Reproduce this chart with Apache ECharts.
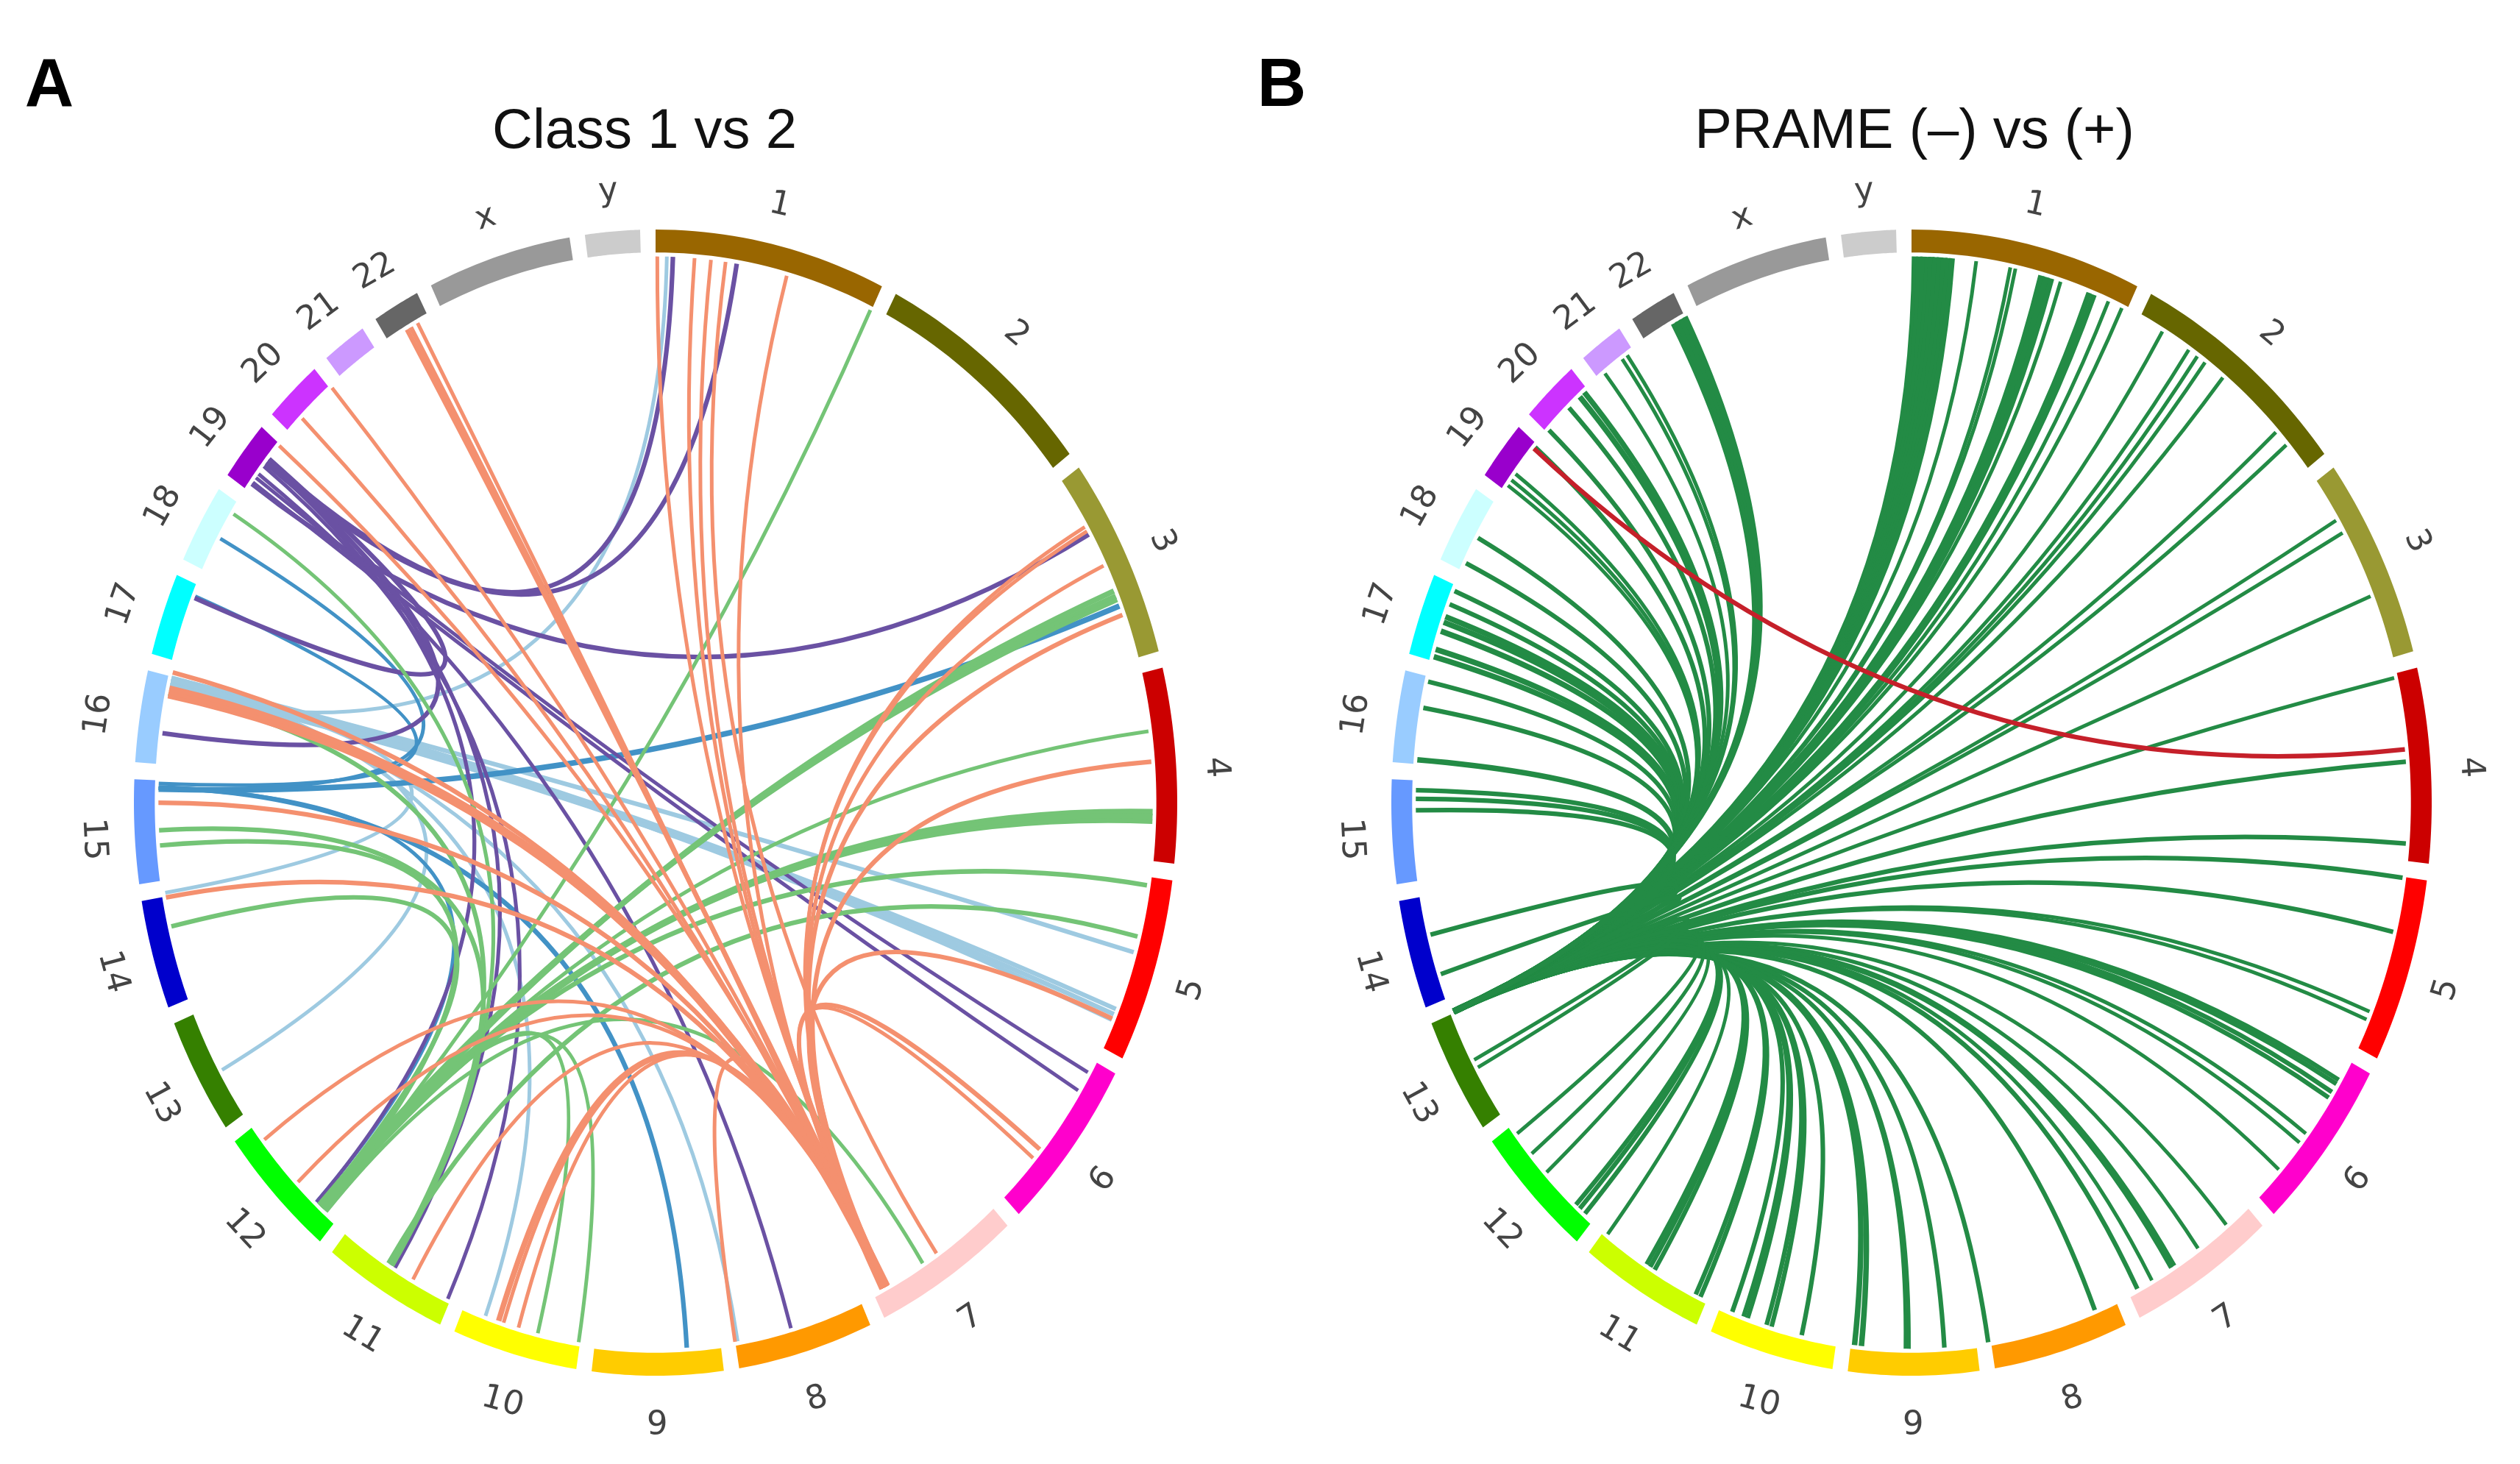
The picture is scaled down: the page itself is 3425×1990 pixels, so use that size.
<!DOCTYPE html>
<html><head><meta charset="utf-8">
<style>html,body{margin:0;padding:0;background:#fff}#c{width:3425px;height:1990px}</style>
<script src="https://cdn.jsdelivr.net/npm/echarts@6/dist/echarts.min.js"></script>
</head><body><div id="c"></div>
<script>
// chromosomes (Mb) and colours
var chromNames=['1','2','3','4','5','6','7','8','9','10','11','12','13','14','15','16','17','18','19','20','21','22','x','y'];
var chromSizes=[249,243,198,191,181,171,159,146,141,135,135,133,115,107,102,90,81,78,59,63,48,51,155,59];
var chromColors=['#996600','#666600','#999933','#CC0000','#FF0000','#FF00CC','#FFCCCC','#FF9900','#FFCC00','#FFFF00','#CCFF00','#00FF00','#358000','#0000CC','#6699FF','#99CCFF','#00FFFF','#CCFFFF','#9900CC','#CC33FF','#CC99FF','#666666','#999999','#CCCCCC'];
// links: [ring position a (deg), ring position b (deg), stroke weight]
var aLightBlue=[[1.3,281.4,4],[283.2,105.9,5],[283.2,112.2,5],[282.2,112.8,5],[282.7,113.4,5],[240.7,282.5,4],[260.5,283,4],[200,283,4],[170.5,282.5,4]];
var aBlue=[[68.9,271.4,6],[271.6,176.4,5],[298.9,271.5,4],[292.2,272,4],[271.5,223,4]];
var aPurple=[[2,308.8,5],[9.4,308.4,5],[60.6,305.7,5],[292,309,5],[277.3,308.6,5],[308.5,223,4],[309,211.6,4],[308,204.7,4],[307,164.2,4],[306.5,119.6,4],[305.9,121.8,4]];
var aGreen=[[25.6,221.8,4],[301.9,212,4],[193.7,222,4],[188.9,222.3,4],[147.5,221.5,4],[67.2,222,6],[67.8,222.3,6],[68.2,222.6,5],[82.5,222,4],[91,222,7],[91.5,222.3,7],[92,222.6,5],[98.7,222.2,5],[104.2,212.5,5],[267.1,212,5],[265.5,222,5],[256.9,222.5,5],[281.5,212.2,5]];
var aSalmon=[[0.2,152.3,4],[4.5,152.6,4],[6.4,152.2,4],[8.1,145.6,4],[15.3,153,4],[330,152.3,5],[330.5,152.5,5],[331.4,152.9,4],[319.4,152.5,4],[314.7,152.7,4],[310.8,152.2,4],[283.8,152.4,5],[281.3,152.5,6],[281.7,152.7,6],[282.1,152.2,6],[270,152.6,5],[260,152.4,5],[85.7,152.5,5],[59.7,152.3,4],[60.2,152.6,4],[64.3,152.5,4],[69.9,152.8,5],[113.3,152.3,5],[130.6,152.4,4],[129.4,152.6,5],[170.8,152.7,4],[198.4,152.4,6],[197.8,152.2,4],[196,152.6,4],[209.2,152.5,4],[226,152.3,4],[231.9,152.4,4]];
var bHub=247.5;
var bGreenEnds=[[0.4,7],[0.9,7],[1.4,7],[1.9,7],[2.3,7],[2.8,7],[3.3,7],[3.8,7],[4.3,7],[4.7,6],[7.5,4],[11.5,4],[12.1,4],[15.2,7],[15.8,7],[16.4,6],[17.5,4],[21,6],[21.6,6],[23.4,4],[25.1,4],[30.4,4],[34,4],[35.2,4],[36.3,4],[38.9,4],[47.3,4],[49.1,4],[58.9,4],[60.4,4],[67.8,4],[76.8,4],[85.7,5],[94.3,5],[97.9,5],[103.7,5],[112.5,4],[113.4,4],[120.5,5],[121,5],[122,5],[122.7,5],[127.3,4],[128.5,4],[132.2,4],[140.6,4],[144.7,4],[148,5],[148.4,5],[151,4],[152.9,5],[158.3,5],[171.1,5],[176.2,5],[180.3,4],[180.7,4],[185.8,6],[186.6,6],[192.8,5],[196.4,5],[197,5],[199.3,5],[199.8,5],[201.2,5],[205.2,5],[205.8,5],[211.2,5],[211.8,5],[212.3,5],[217.8,4],[221.2,5],[222,5],[222.6,5],[227.4,4],[230,4],[232.7,4],[241,4],[241.9,4],[251.7,5],[256,5],[269.2,5],[270.4,5],[271.3,5],[274.5,6],[280,5],[282.8,5],[285.5,6],[286.3,6],[288.3,6],[289.3,6],[289.9,6],[291.3,5],[292.8,5],[296,5],[299,5],[305.5,4],[306.2,4],[307,4],[310.6,5],[313,5],[316.3,5],[318,6],[318.7,6],[321.8,4],[324.3,4],[325,4],[331.3,6],[331.8,6],[332.3,6],[332.8,6]];
var bRed=[[310.4,84.4,5]];
var panelTitles=['Class 1 vs 2','PRAME (\u2013) vs (+)'];
var panelLetters=['A','B'];

var GAP=1.7, RO=1, RI=0.96, RL=0.953, RT=1.078, WEIGHT=1.25;
var total=chromSizes.reduce(function(s,v){return s+v},0);
var perMb=(360-GAP*chromSizes.length)/total, acc=0;
var chromData=chromSizes.map(function(v,i){var s=acc,e=s+v*perMb;acc=e+GAP;return [s,e,i];});
function unit(r,d){var t=d*Math.PI/180;return [r*Math.sin(t),r*Math.cos(t)];}

function renderChrom(p,api){
  var s=api.value(0),e=api.value(1),pts=[],n=24,i;
  for(i=0;i<=n;i++)pts.push(api.coord(unit(RO,s+(e-s)*i/n)));
  for(i=n;i>=0;i--)pts.push(api.coord(unit(RI,s+(e-s)*i/n)));
  return {type:'polygon',shape:{points:pts},style:{fill:chromColors[api.value(2)]}};
}
function renderLabel(p,api){
  var m=(api.value(0)+api.value(1))/2,q=api.coord(unit(RT,m));
  var rot=m<90?m:(m<270?m-180:m-360);
  return {type:'text',x:q[0]-1,y:q[1]+7,rotation:-rot*Math.PI/180,
    style:{text:chromNames[api.value(2)],fontFamily:'DejaVu Sans',fontSize:45,fill:'#444',align:'center',verticalAlign:'middle'}};
}
function linkRender(color){
  return function(p,api){
    var a=api.coord(unit(RL,api.value(0))),b=api.coord(unit(RL,api.value(1))),c=api.coord([0,0]);
    return {type:'bezierCurve',shape:{x1:a[0],y1:a[1],x2:b[0],y2:b[1],cpx1:c[0],cpy1:c[1]},
      style:{fill:null,stroke:color,lineWidth:api.value(2)*WEIGHT}};
  };
}
function linkSeries(idx,color,data){
  return {type:'custom',xAxisIndex:idx,yAxisIndex:idx,coordinateSystem:'cartesian2d',renderItem:linkRender(color),data:data,silent:true,animation:false,encode:{x:0,y:1}};
}
function ringSeries(idx){
  return [
    {type:'custom',xAxisIndex:idx,yAxisIndex:idx,renderItem:renderChrom,data:chromData,silent:true,animation:false,encode:{x:0,y:1}},
    {type:'custom',xAxisIndex:idx,yAxisIndex:idx,renderItem:renderLabel,data:chromData,silent:true,animation:false,encode:{x:0,y:1}}
  ];
}
var ax={type:'value',min:-1,max:1,show:false};
var bLinks=bGreenEnds.map(function(d){return [bHub,d[0],d[1]];});
var chart=echarts.init(document.getElementById('c'),null,{renderer:'canvas'});
chart.setOption({
  animation:false,backgroundColor:'#fff',
  title:[
    {text:panelTitles[0],left:871,textAlign:'center',top:137,textStyle:{fontFamily:'Liberation Sans',fontWeight:'normal',fontSize:76,color:'#111'}},
    {text:panelTitles[1],left:2597,textAlign:'center',top:137,textStyle:{fontFamily:'Liberation Sans',fontWeight:'normal',fontSize:76,color:'#111'}},
    {text:panelLetters[0],left:62,textAlign:'center',top:68,textStyle:{fontFamily:'Liberation Sans',fontWeight:'bold',fontSize:92,color:'#000'}},
    {text:panelLetters[1],left:1737,textAlign:'center',top:68,textStyle:{fontFamily:'Liberation Sans',fontWeight:'bold',fontSize:92,color:'#000'}}
  ],
  grid:[{left:182,width:1418,top:312,height:1558},{left:1891,width:1414,top:312,height:1558}],
  xAxis:[Object.assign({gridIndex:0},ax),Object.assign({gridIndex:1},ax)],
  yAxis:[Object.assign({gridIndex:0},ax),Object.assign({gridIndex:1},ax)],
  series:[].concat(
    ringSeries(0),
    [linkSeries(0,'#9ECAE1',aLightBlue),linkSeries(0,'#4292C6',aBlue),linkSeries(0,'#6A51A3',aPurple),linkSeries(0,'#74C476',aGreen),linkSeries(0,'#F4906F',aSalmon)],
    ringSeries(1),
    [linkSeries(1,'#238B45',bLinks),linkSeries(1,'#C5202A',bRed)]
  )
});
</script></body></html>
